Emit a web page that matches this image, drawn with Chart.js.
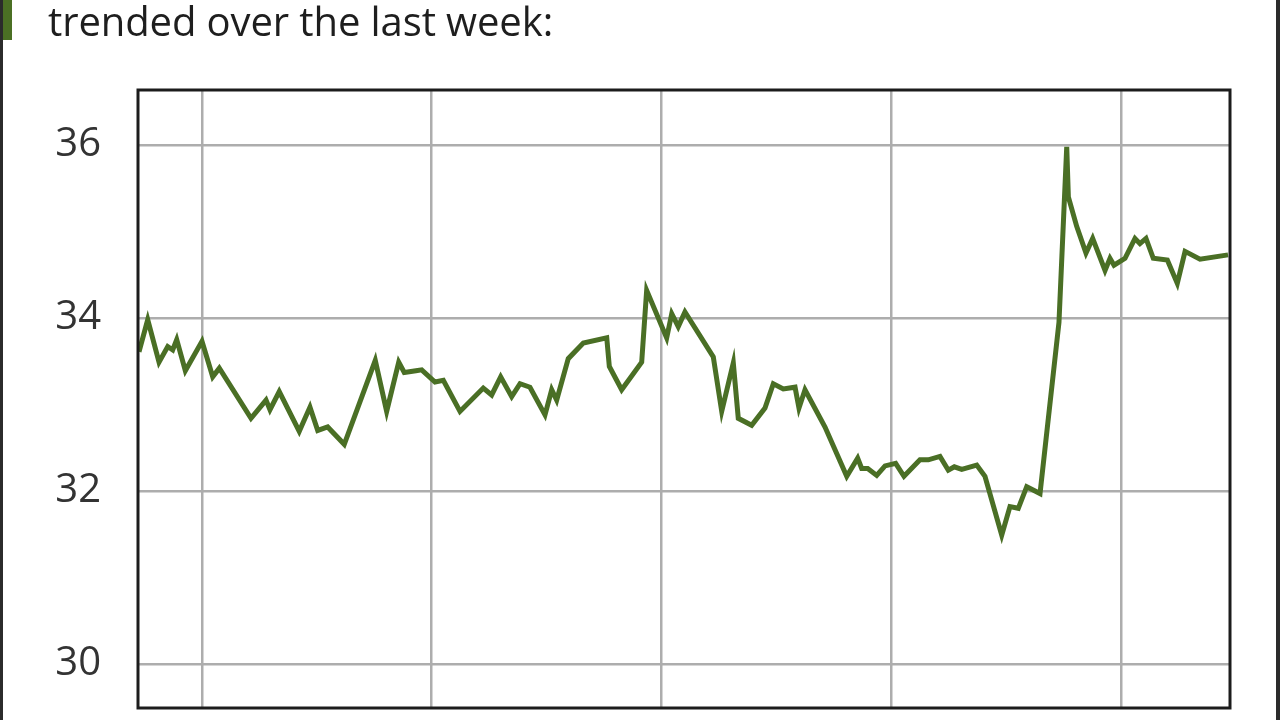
<!DOCTYPE html>
<html>
<head>
<meta charset="utf-8">
<script src="https://cdn.jsdelivr.net/npm/chart.js@4.4.1/dist/chart.umd.min.js"></script>
<style>
  html, body { margin: 0; padding: 0; background: #fff; }
  #wrap { position: relative; width: 1280px; height: 720px; overflow: hidden; background: #fff; }
  #edgeL { position: absolute; left: 0; top: 0; width: 3px; height: 720px; background: #2b2b2b; }
  #edgeR { position: absolute; left: 1276px; top: 0; width: 4px; height: 720px; background: #2b2b2b; }
  #flag { position: absolute; left: 3px; top: 0; width: 9px; height: 40px; background: #4b7024; }
  #caption { position: absolute; left: 48px; top: 1px; font: 40px/40px "Open Sans", sans-serif; color: #1e1e1e; white-space: nowrap; letter-spacing: -0.1px; }
  canvas { position: absolute; left: 0; top: 0; }
</style>
</head>
<body>
<div id="wrap">
  <canvas id="trendChart" width="1280" height="720"></canvas>
  <div id="edgeL"></div>
  <div id="edgeR"></div>
  <div id="flag"></div>
  <div id="caption">trended over the last week:</div>
</div>
<script>
// hours since the first midnight shown
const hours = [
  -6.58, -5.67, -4.49, -3.58, -3.06, -2.64, -1.74, 0.00, 1.12, 1.81,
  5.12, 6.69, 7.10, 8.07, 10.16, 11.28, 12.09, 13.13, 14.86, 18.10,
  19.29, 20.55, 21.13, 22.35, 22.95, 24.34, 25.21, 26.95, 29.38, 30.26,
  31.20, 32.35, 33.22, 34.26, 35.83, 36.53, 37.05, 38.26, 39.83, 42.28,
  42.55, 43.84, 45.93, 46.45, 48.54, 49.07, 49.75, 50.45, 53.41, 54.29,
  55.50, 56.02, 57.42, 58.81, 59.68, 60.72, 61.95, 62.36, 62.99, 65.08,
  67.35, 68.49, 68.91, 69.54, 70.48, 71.35, 72.46, 73.33, 75.00, 75.87,
  77.09, 77.96, 78.59, 79.36, 80.93, 81.79, 83.54, 84.40, 85.27, 86.15,
  87.54, 89.52, 90.33, 90.50, 91.37, 92.34, 93.04, 94.33, 94.85, 95.27,
  96.42, 97.46, 97.98, 98.61, 99.37, 100.84, 101.88, 102.69, 104.25, 107.18
];

const prices = [
  33.61, 33.98, 33.49, 33.67, 33.63, 33.75, 33.39, 33.73, 33.32, 33.42,
  32.84, 33.05, 32.94, 33.15, 32.69, 32.97, 32.70, 32.74, 32.54, 33.51,
  32.92, 33.49, 33.37, 33.39, 33.40, 33.26, 33.28, 32.92, 33.19, 33.11,
  33.32, 33.09, 33.24, 33.20, 32.88, 33.17, 33.05, 33.53, 33.71, 33.77,
  33.44, 33.17, 33.49, 34.32, 33.77, 34.05, 33.90, 34.07, 33.55, 32.92,
  33.48, 32.84, 32.76, 32.96, 33.24, 33.18, 33.20, 32.96, 33.17, 32.74,
  32.17, 32.38, 32.26, 32.26, 32.18, 32.29, 32.32, 32.17, 32.36, 32.36,
  32.40, 32.24, 32.28, 32.25, 32.30, 32.17, 31.49, 31.82, 31.80, 32.05,
  31.97, 33.95, 35.98, 35.40, 35.06, 34.75, 34.92, 34.55, 34.69, 34.61,
  34.69, 34.92, 34.86, 34.92, 34.69, 34.67, 34.40, 34.77, 34.68, 34.73
];

const dayMarks = [0, 24, 48, 72, 96];
const valueTicks = [30, 32, 34, 36];

const xMin = -6.685, xMax = 107.385;
const yMin = 29.491, yMax = 36.636;

const gridColor = '#adadad';
const lineGreen = '#4a6f25';

const plotFrame = {
    id: 'plotFrame',
    afterDraw(chart) {
        const { ctx, chartArea } = chart;
        ctx.save();
        ctx.strokeStyle = '#1c1c1c';
        ctx.lineWidth = 3;
        ctx.strokeRect(chartArea.left, chartArea.top,
            chartArea.right - chartArea.left, chartArea.bottom - chartArea.top);
        ctx.restore();
    }
};

const ctx = document.getElementById('trendChart').getContext('2d');
new Chart(ctx, {
    type: 'line',
    data: {
        datasets: [{
            data: hours.map((h, i) => ({ x: h, y: prices[i] })),
            borderColor: lineGreen,
            borderWidth: 5,
            borderJoinStyle: 'miter',
            pointRadius: 0,
            tension: 0,
            fill: false
        }]
    },
    options: {
        responsive: false,
        devicePixelRatio: 1,
        animation: false,
        layout: {
            padding: { left: 0, top: 90, right: 50, bottom: 12 }
        },
        plugins: {
            legend: { display: false },
            tooltip: { enabled: false }
        },
        scales: {
            x: {
                type: 'linear',
                min: xMin,
                max: xMax,
                afterBuildTicks: scale => { scale.ticks = dayMarks.map(v => ({ value: v })); },
                afterFit: scale => {
                    scale.height = 0;
                    scale.paddingLeft = 0;
                    scale.paddingRight = 0;
                },
                ticks: { display: false },
                grid: { color: gridColor, lineWidth: 2.5, drawTicks: false },
                border: { display: false }
            },
            y: {
                type: 'linear',
                min: yMin,
                max: yMax,
                afterBuildTicks: scale => { scale.ticks = valueTicks.map(v => ({ value: v })); },
                afterFit: scale => {
                    scale.width = 138;
                    scale.paddingTop = 0;
                    scale.paddingBottom = 0;
                },
                ticks: {
                    color: '#333',
                    padding: 37,
                    font: { family: '"Open Sans", sans-serif', size: 40 }
                },
                grid: { color: gridColor, lineWidth: 2.5, drawTicks: false },
                border: { display: false }
            }
        }
    },
    plugins: [plotFrame]
});
</script>
</body>
</html>
